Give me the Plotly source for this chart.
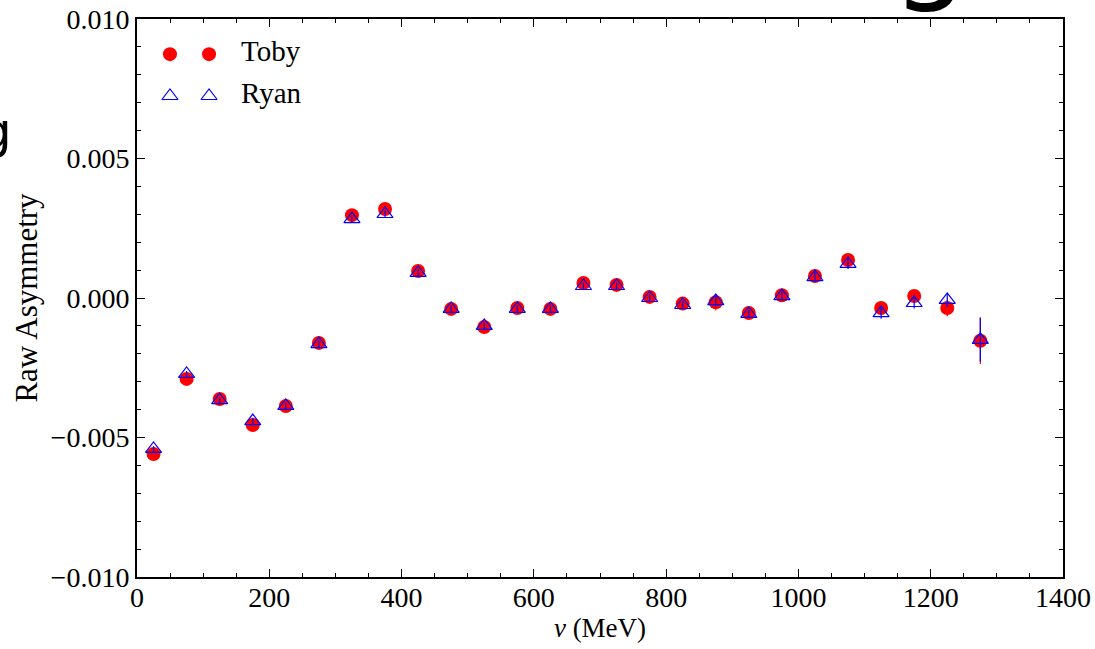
import plotly.graph_objects as go

# Data
nu = [25, 75, 125, 175, 225, 275, 325, 375, 425, 475, 525, 575, 625,
      675, 725, 775, 825, 875, 925, 975, 1025, 1075, 1125, 1175, 1225, 1275]

toby = [-0.00559, -0.00290, -0.00362, -0.00455, -0.00387, -0.00161, 0.00297, 0.00319,
        0.00097, -0.00039, -0.00104, -0.00036, -0.00039, 0.00054, 0.00047, 0.00004,
        -0.00020, -0.00015, -0.00054, 0.00010, 0.00079, 0.00136, -0.00036, 0.00007,
        -0.00036, -0.00153]
toby_err = [0.00010, 0.00010, 0.00010, 0.00012, 0.00012, 0.00012, 0.00012, 0.00012,
            0.00012, 0.00012, 0.00012, 0.00012, 0.00012, 0.00012, 0.00012, 0.00012,
            0.00015, 0.00029, 0.00015, 0.00015, 0.00018, 0.00018, 0.00020, 0.00020,
            0.00029, 0.00084]

ryan = [-0.00541, -0.00272, -0.00366, -0.00441, -0.00387, -0.00165, 0.00283, 0.00301,
        0.00090, -0.00039, -0.00100, -0.00039, -0.00039, 0.00043, 0.00043, 0.00000,
        -0.00025, -0.00011, -0.00057, 0.00007, 0.00075, 0.00122, -0.00054, -0.00018,
        -0.00007, -0.00150]
ryan_err = [0.00010, 0.00010, 0.00010, 0.00012, 0.00012, 0.00012, 0.00012, 0.00012,
            0.00012, 0.00012, 0.00012, 0.00012, 0.00012, 0.00012, 0.00012, 0.00012,
            0.00015, 0.00020, 0.00015, 0.00015, 0.00018, 0.00018, 0.00020, 0.00020,
            0.00025, 0.00078]

series_names = ["Toby", "Ryan"]
fragment_texts = ["g", "g"]   # cropped pieces of neighbouring figure text

SERIF = "Liberation Serif, Times New Roman, serif"
RED = "#ff0000"
BLUE = "#0000ff"

fig = go.Figure()

fig.add_trace(go.Scatter(
    x=nu, y=toby, mode="markers", name=series_names[0],
    marker=dict(symbol="circle", size=14, color=RED, line=dict(width=0)),
    error_y=dict(type="data", array=toby_err, color=RED, thickness=1.2, width=0),
    showlegend=False,
))
fig.add_trace(go.Scatter(
    x=nu, y=ryan, mode="markers", name=series_names[1],
    marker=dict(symbol="triangle-up-open", size=14, color=BLUE, line=dict(width=1.2, color=BLUE)),
    error_y=dict(type="data", array=ryan_err, color=BLUE, thickness=1.2, width=0),
    showlegend=False,
))

# Manual legend (two markers per entry, matplotlib style) on a hidden overlay axis
leg_x = [0.0356, 0.0778]
fig.add_trace(go.Scatter(
    x=leg_x, y=[0.937, 0.937], xaxis="x2", yaxis="y2", mode="markers",
    marker=dict(symbol="circle", size=14, color=RED), showlegend=False, hoverinfo="skip"))
fig.add_trace(go.Scatter(
    x=leg_x, y=[0.862, 0.862], xaxis="x2", yaxis="y2", mode="markers",
    marker=dict(symbol="triangle-up-open", size=14, color=BLUE, line=dict(width=1.2, color=BLUE)),
    showlegend=False, hoverinfo="skip"))
fig.add_trace(go.Scatter(
    x=[0.1123, 0.1123], y=[0.937, 0.862], xaxis="x2", yaxis="y2", mode="text",
    text=series_names, textposition="middle right",
    textfont=dict(family=SERIF, size=29, color="black"),
    showlegend=False, hoverinfo="skip", cliponaxis=False))

# Cropped fragments of surrounding figure text (cut off at the picture edge, as in the source)
annotations = [
    dict(x=0.8564, y=1.0043, xref="paper", yref="paper", text=fragment_texts[0],
         xanchor="center", yanchor="bottom", showarrow=False,
         font=dict(family="DejaVu Sans", size=120, color="black")),
    dict(x=-0.1523, y=0.800, xref="paper", yref="paper", text=fragment_texts[1],
         xanchor="center", yanchor="middle", showarrow=False,
         font=dict(family="DejaVu Sans", size=50, color="black")),
]

axis_common = dict(
    showline=True, linecolor="black", linewidth=2, mirror="ticks",
    ticks="inside", ticklen=8, tickwidth=1, tickcolor="black",
    showgrid=False, zeroline=False, automargin=False,
    tickfont=dict(family=SERIF, size=28, color="black"),
)

fig.update_layout(
    width=1095, height=649,
    margin=dict(l=137, r=32, t=19, b=72, autoexpand=False),
    paper_bgcolor="white", plot_bgcolor="white",
    xaxis=dict(range=[0, 1400], tickvals=[0, 200, 400, 600, 800, 1000, 1200, 1400],
               minor=dict(dtick=50, ticks="inside", ticklen=4, tickcolor="black", tickwidth=1),
               ticklabelstandoff=-6,
               title=dict(text="<i>ν</i> (MeV)", font=dict(family=SERIF, size=27, color="black"),
                          standoff=6),
               **axis_common),
    yaxis=dict(range=[-0.01, 0.01], tickvals=[-0.01, -0.005, 0, 0.005, 0.01], tickformat=".3f",
               minor=dict(dtick=0.001, ticks="inside", ticklen=4, tickcolor="black", tickwidth=1),
               title=dict(text="Raw Asymmetry", font=dict(family=SERIF, size=31, color="black"),
                          standoff=4),
               **axis_common),
    xaxis2=dict(overlaying="x", range=[0, 1], visible=False, automargin=False),
    yaxis2=dict(overlaying="y", range=[0, 1], visible=False, automargin=False),
    annotations=annotations,
    showlegend=False,
)

fig.write_html("out.html", config={"displayModeBar": False},
               post_script="document.body.style.margin='0';document.body.style.overflow='hidden';")
